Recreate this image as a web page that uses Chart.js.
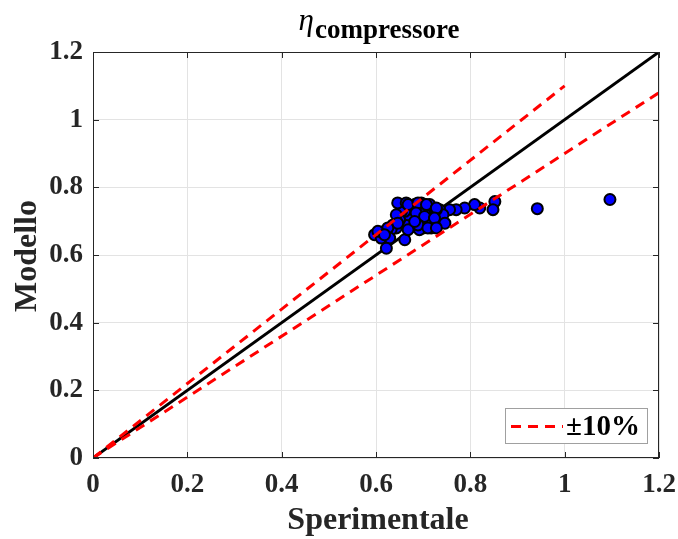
<!DOCTYPE html>
<html>
<head>
<meta charset="utf-8">
<script src="https://cdn.jsdelivr.net/npm/chart.js@4"></script>
<style>
  html, body { margin: 0; padding: 0; background: #fff; }
  #wrap { width: 678px; height: 539px; }
</style>
</head>
<body>
<div id="wrap"><canvas id="chart" width="678" height="539"></canvas></div>
<script>
// dati
const sperimentale = [0.852, 0.848, 0.820, 0.809, 0.788, 0.770, 0.756, 0.735, 0.735, 0.717,
    0.717, 0.703, 0.700, 0.689, 0.682, 0.678, 0.668, 0.668, 0.661, 0.654,
    0.646, 0.664, 0.696, 0.714, 0.650, 0.643, 0.636, 0.632, 0.618, 0.597,
    0.611, 0.629, 0.661, 0.622, 0.692, 0.710, 0.742, 0.728, 0.942, 1.096,
    0.668, 0.689, 0.707, 0.728, 0.643, 0.685, 0.703, 0.724, 0.746, 0.646,
    0.625, 0.604, 0.618, 0.668, 0.689, 0.710, 0.682, 0.728];
const modello = [0.758, 0.734, 0.739, 0.749, 0.739, 0.734, 0.734, 0.734, 0.704, 0.709,
    0.680, 0.724, 0.680, 0.704, 0.749, 0.684, 0.689, 0.719, 0.729, 0.729,
    0.754, 0.754, 0.754, 0.749, 0.704, 0.680, 0.689, 0.675, 0.670, 0.660,
    0.650, 0.650, 0.645, 0.620, 0.675, 0.694, 0.719, 0.734, 0.737, 0.764,
    0.749, 0.754, 0.749, 0.739, 0.719, 0.724, 0.714, 0.709, 0.694, 0.694,
    0.680, 0.670, 0.660, 0.675, 0.689, 0.680, 0.699, 0.680];

const bisettrice = [[0, 0], [1.2, 1.2]];
const rigaSopra = [[0, 0], [1.0, 1.1]];   // +10%
const rigaSotto = [[0, 0], [1.22, 1.098]]; // -10%

const xTicks = ['0', '0.2', '0.4', '0.6', '0.8', '1', '1.2'];
const yTicks = ['0', '0.2', '0.4', '0.6', '0.8', '1', '1.2'];

const FONT = '"Liberation Serif", "Times New Roman", serif';
const TXT = '#262626';

const toXY = arr => arr.map(p => ({ x: p[0], y: p[1] }));

// titolo, etichette assi, bordo, tacche interne e legenda
const decorations = {
    id: 'decorations',
    afterDraw(chart) {
        const ctx = chart.ctx;
        const a = chart.chartArea;
        const xs = chart.scales.x;
        const ys = chart.scales.y;
        ctx.save();

        // bordo
        ctx.strokeStyle = TXT;
        ctx.lineWidth = 1;
        ctx.strokeRect(a.left + 0.5, a.top + 0.5, a.right - a.left - 1, a.bottom - a.top - 1);

        // tacche verso l'interno
        const tl = 6;
        ctx.beginPath();
        xs.ticks.forEach(t => {
            const px = Math.round(xs.getPixelForValue(t.value)) + 0.5;
            ctx.moveTo(px, a.bottom); ctx.lineTo(px, a.bottom - tl);
            ctx.moveTo(px, a.top); ctx.lineTo(px, a.top + tl);
        });
        ys.ticks.forEach(t => {
            const py = Math.round(ys.getPixelForValue(t.value)) + 0.5;
            ctx.moveTo(a.left, py); ctx.lineTo(a.left + tl, py);
            ctx.moveTo(a.right, py); ctx.lineTo(a.right - tl, py);
        });
        ctx.stroke();

        // titolo
        ctx.fillStyle = '#000';
        ctx.textBaseline = 'alphabetic';
        ctx.textAlign = 'left';
        ctx.font = 'italic 31px ' + FONT;
        const wEta = ctx.measureText('η').width;
        ctx.font = 'bold 27px ' + FONT;
        const wSub = ctx.measureText('compressore').width;
        const x0 = 379 - (wEta + wSub + 1) / 2;
        ctx.font = 'italic 31px ' + FONT;
        ctx.fillText('η', x0, 30);
        ctx.font = 'bold 27px ' + FONT;
        ctx.fillText('compressore', x0 + wEta + 1, 38);

        // etichette assi
        ctx.fillStyle = TXT;
        ctx.font = 'bold 32px ' + FONT;
        ctx.textAlign = 'center';
        ctx.fillText('Sperimentale', 378, 529);
        ctx.save();
        ctx.translate(36, 256);
        ctx.rotate(-Math.PI / 2);
        ctx.fillText('Modello', 0, 0);
        ctx.restore();

        // legenda
        const lx = 505, ly = 408, lw = 142, lh = 35;
        ctx.fillStyle = '#fff';
        ctx.fillRect(lx, ly, lw, lh);
        ctx.strokeStyle = '#a0a0a0';
        ctx.lineWidth = 1;
        ctx.strokeRect(lx + 0.5, ly + 0.5, lw, lh);
        ctx.strokeStyle = '#ff0000';
        ctx.lineWidth = 3;
        ctx.setLineDash([10, 7]);
        ctx.beginPath();
        ctx.moveTo(lx + 6, ly + lh / 2 + 1);
        ctx.lineTo(lx + 58, ly + lh / 2 + 1);
        ctx.stroke();
        ctx.setLineDash([]);
        ctx.fillStyle = '#000';
        ctx.textAlign = 'left';
        ctx.textBaseline = 'middle';
        ctx.font = 'bold 29px ' + FONT;
        ctx.fillText('±10%', lx + 61, ly + lh / 2 + 2);

        ctx.restore();
    }
};

const axisCommon = {
    type: 'linear',
    min: 0,
    max: 1.2,
    grid: { color: '#e3e3e3', lineWidth: 1, drawTicks: false },
    border: { display: false }
};

new Chart(document.getElementById('chart'), {
    type: 'scatter',
    data: {
        datasets: [
            {
                label: '±10%',
                data: toXY(rigaSopra),
                showLine: true,
                borderColor: '#ff0000',
                borderWidth: 3,
                borderDash: [10, 7],
                pointRadius: 0,
                order: 0
            },
            {
                label: '-10%',
                data: toXY(rigaSotto),
                showLine: true,
                borderColor: '#ff0000',
                borderWidth: 3,
                borderDash: [10, 7],
                pointRadius: 0,
                order: 0
            },
            {
                label: 'dati',
                data: sperimentale.map((v, i) => ({ x: v, y: modello[i] })),
                backgroundColor: '#0000ff',
                borderColor: '#000000',
                borderWidth: 2,
                pointRadius: 5.5,
                order: 1
            },
            {
                label: 'y = x',
                data: toXY(bisettrice),
                showLine: true,
                borderColor: '#000000',
                borderWidth: 3,
                pointRadius: 0,
                order: 2
            }
        ]
    },
    options: {
        responsive: false,
        animation: false,
        layout: { padding: { top: 52, right: 19, left: 0, bottom: 0 } },
        plugins: {
            legend: { display: false },
            tooltip: { enabled: false }
        },
        scales: {
            x: Object.assign({}, axisCommon, {
                ticks: {
                    stepSize: 0.2,
                    padding: 11,
                    color: TXT,
                    font: { family: FONT, size: 27, weight: 'bold' },
                    maxRotation: 0,
                    callback: (v, i) => xTicks[i]
                },
                afterFit: s => { s.height = 81; s.paddingLeft = 0; s.paddingRight = 0; }
            }),
            y: Object.assign({}, axisCommon, {
                ticks: {
                    stepSize: 0.2,
                    padding: 10,
                    color: TXT,
                    font: { family: FONT, size: 27, weight: 'bold' },
                    callback: (v, i) => yTicks[i]
                },
                afterFit: s => { s.width = 93; s.paddingTop = 0; s.paddingBottom = 0; }
            })
        }
    },
    plugins: [decorations]
});
</script>
</body>
</html>
